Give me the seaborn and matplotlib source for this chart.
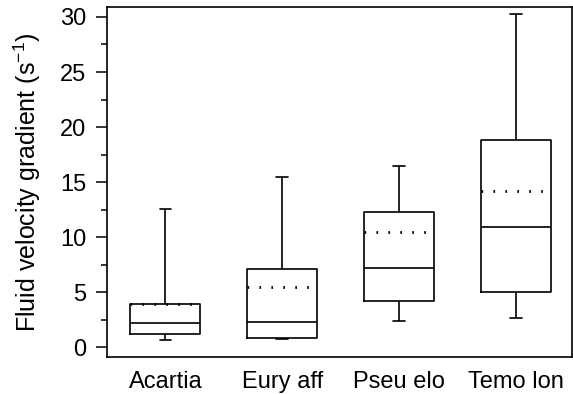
import numpy as np
import pandas as pd
import matplotlib
matplotlib.use("Agg")
import matplotlib.pyplot as plt
from matplotlib.ticker import MultipleLocator
import seaborn as sns

# values
categories = ["Acartia", "Eury aff", "Pseu elo", "Temo lon"]
whisker_low = [0.65, 0.72, 2.4, 2.6]
q1 = [1.15, 0.8, 4.2, 4.97]
median = [2.15, 2.3, 7.15, 10.9]
q3 = [3.95, 7.1, 12.3, 18.8]
whisker_high = [12.55, 15.45, 16.5, 30.3]
mean = [3.95, 5.5, 10.5, 14.2]

# five-number summaries as a long table, whiskers drawn at min/max
rows = []
for i, cat in enumerate(categories):
    for v in [whisker_low[i], q1[i], median[i], q3[i], whisker_high[i]]:
        rows.append({"species": cat, "value": v})
df = pd.DataFrame(rows)

sns.set_style("ticks")
plt.rcParams["font.family"] = ["Liberation Sans", "DejaVu Sans"]
plt.rcParams["mathtext.fontset"] = "custom"
plt.rcParams["mathtext.rm"] = "Liberation Sans"
plt.rcParams["mathtext.it"] = "Liberation Sans"
plt.rcParams["text.color"] = "black"
plt.rcParams["axes.labelcolor"] = "black"
plt.rcParams["xtick.color"] = "black"
plt.rcParams["ytick.color"] = "black"

fig = plt.figure(figsize=(5.73, 3.94), dpi=100)
ax = fig.add_axes([0.1867, 0.094, 0.8113, 0.888])

sns.boxplot(data=df, x="species", y="value", ax=ax, whis=(0, 100),
            width=0.6, fill=False, color="black", linewidth=1.2,
            capwidths=0.1, showfliers=False)

# mean as dotted line across each box
pos = np.arange(len(categories))
ax.hlines(mean, pos - 0.3, pos + 0.3, colors="black", linewidth=2,
          linestyles=(0, (0.6, 3.7)))

ax.set_xlim(-0.5, 3.48)
ax.set_ylim(-0.9, 30.9)
ax.yaxis.set_major_locator(MultipleLocator(5))
ax.yaxis.set_minor_locator(MultipleLocator(2.5))
ax.tick_params(axis="y", which="major", length=8, width=1.1, pad=7,
               labelsize=17, colors="black")
ax.tick_params(axis="y", which="minor", length=4.5, width=1.1, colors="black")
ax.tick_params(axis="x", length=0, pad=10, labelsize=17, colors="black")

for s in ax.spines.values():
    s.set_visible(True)
    s.set_linewidth(1.2)
    s.set_color("black")

ax.set_xlabel("")
ax.set_ylabel("Fluid velocity gradient (s$^{-1}$)", fontsize=18, labelpad=12,
              color="black")

fig.savefig("out.png", dpi=100)
